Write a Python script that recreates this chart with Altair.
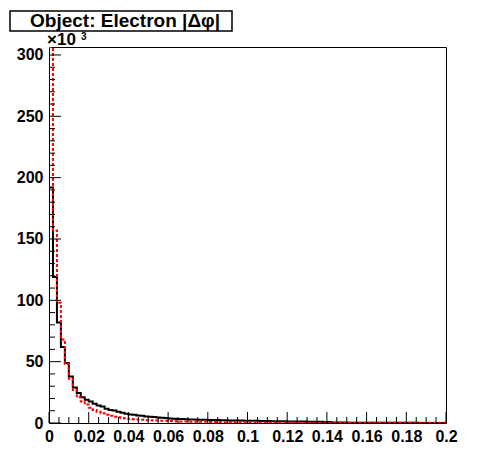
import altair as alt
import pandas as pd

# ---------------- data (counts in units of 10^3 per bin of 0.002) ----------------
bin_width = 0.002
n_bins = 100

black_counts = [
    192, 119, 82, 62, 49, 38, 29, 24.5, 21, 19,
    17.5, 15.7, 14.3, 13.5, 11.7, 10.6, 10.1, 9.2, 8.3, 7.6,
    7.0, 6.7, 6.1, 5.9, 5.3, 5.1, 4.9, 4.5, 4.3, 4.1,
    3.6, 3.4, 3.3, 3.2, 3.1, 2.8, 2.8, 2.7, 2.6, 2.6,
    2.5, 2.4, 2.4, 2.2, 2.2, 2.1, 2.1, 2.0, 2.0, 1.9,
    1.9, 1.8, 1.8, 1.7, 1.6, 1.6, 1.5, 1.5, 1.4, 1.4,
    1.3, 1.3, 1.3, 1.2, 1.2, 1.1, 1.1, 1.0, 1.0, 0.9,
    0.8, 0.5, 0.45, 0.4, 0.35, 0.3, 0.3, 0.28, 0.26, 0.25,
    0.24, 0.22, 0.2, 0.2, 0.18, 0.17, 0.16, 0.15, 0.14, 0.13,
    0.12, 0.12, 0.11, 0.1, 0.1, 0.1, 0.09, 0.09, 0.08, 0.08,
]

red_counts = [
    306.5, 157, 98, 68, 48, 36, 27, 21, 17.5, 15,
    12.5, 10.6, 9.2, 7.9, 6.7, 5.9, 5.1, 4.6, 4.1, 3.7,
    3.3, 3.1, 2.8, 2.6, 2.3, 2.2, 2.1, 2.0, 1.9, 1.8,
    1.6, 1.4, 1.3, 1.2, 1.2, 1.1, 1.1, 1.1, 1.0, 1.0,
    0.9, 0.8, 0.8, 0.7, 0.7, 0.7, 0.6, 0.6, 0.6, 0.6,
    0.5, 0.5, 0.5, 0.5, 0.5, 0.4, 0.4, 0.4, 0.4, 0.4,
    0.35, 0.35, 0.35, 0.3, 0.3, 0.3, 0.3, 0.3, 0.3, 0.25,
    0.25, 0.25, 0.25, 0.25, 0.2, 0.2, 0.2, 0.2, 0.2, 0.2,
    0.2, 0.2, 0.2, 0.2, 0.2, 0.2, 0.2, 0.2, 0.2, 0.2,
    0.2, 0.2, 0.2, 0.2, 0.2, 0.2, 0.2, 0.2, 0.2, 0.2,
]

y_major = [0, 50, 100, 150, 200, 250, 300]
y_minor = [10, 20, 30, 40, 60, 70, 80, 90, 110, 120, 130, 140, 160, 170, 180, 190,
           210, 220, 230, 240, 260, 270, 280, 290]
x_major = [0, 0.02, 0.04, 0.06, 0.08, 0.1, 0.12, 0.14, 0.16, 0.18, 0.2]
x_minor = [0.005, 0.01, 0.015, 0.025, 0.03, 0.035, 0.045, 0.05, 0.055, 0.065, 0.07,
           0.075, 0.085, 0.09, 0.095, 0.105, 0.11, 0.115, 0.125, 0.13, 0.135, 0.145,
           0.15, 0.155, 0.165, 0.17, 0.175, 0.185, 0.19, 0.195]
title_text = "Object: Electron |\u0394\u03c6|"
exp_text = "\u00d710"
exp_sup = "3"

W, H = 397, 376
FONT = "Liberation Sans"


def step_rows(counts, name):
    rows = [{"x": round(i * bin_width, 4), "y": c, "s": name} for i, c in enumerate(counts)]
    rows.append({"x": round(n_bins * bin_width, 4), "y": counts[-1], "s": name})
    return rows


black_df = pd.DataFrame(step_rows(black_counts, "black"))
red_df = pd.DataFrame(step_rows(red_counts, "red"))

xs = alt.Scale(domain=[0, 0.2], nice=False, zero=False)
ys = alt.Scale(domain=[0, 306.5], nice=False)

x_axis = alt.Axis(values=x_major, format="~g", ticks=False, domain=False, grid=False,
                  labelFont=FONT, labelFontWeight="bold", labelFontSize=16,
                  labelColor="black", labelPadding=5, labelFlush=False,
                  labelOverlap=False, title=None)
y_axis = alt.Axis(values=y_major, ticks=False, domain=False, grid=False,
                  labelFont=FONT, labelFontWeight="bold", labelFontSize=16,
                  labelColor="black", labelPadding=6, labelFlush=False,
                  labelOverlap=False, title=None)


def X(field):
    return alt.X(field, scale=xs, axis=x_axis)


def Y(field):
    return alt.Y(field, scale=ys, axis=y_axis)


black_line = alt.Chart(black_df).mark_line(
    interpolate="step-after", color="black", strokeWidth=2, clip=True
).encode(x=X("x:Q"), y=Y("y:Q"))

red_line = alt.Chart(red_df).mark_line(
    interpolate="step-after", color="#ff0000", strokeWidth=2, strokeDash=[3, 2], clip=True
).encode(x=X("x:Q"), y=Y("y:Q"))

# inward ticks (ROOT style)
ymaj = alt.Chart(pd.DataFrame({"v": y_major})).mark_rule(color="black", strokeWidth=1).encode(
    y=Y("v:Q"), x=alt.value(0), x2=alt.value(12))
ymin = alt.Chart(pd.DataFrame({"v": y_minor})).mark_rule(color="black", strokeWidth=1).encode(
    y=Y("v:Q"), x=alt.value(0), x2=alt.value(6))
xmaj = alt.Chart(pd.DataFrame({"v": x_major})).mark_rule(color="black", strokeWidth=1).encode(
    x=X("v:Q"), y=alt.value(H), y2=alt.value(H - 11))
xmin = alt.Chart(pd.DataFrame({"v": x_minor})).mark_rule(color="black", strokeWidth=1).encode(
    x=X("v:Q"), y=alt.value(H), y2=alt.value(H - 6))

# title box
title_box = alt.Chart(pd.DataFrame({"t": [title_text]})).mark_rect(
    fill="white", stroke="black", strokeWidth=1.5, clip=False
).encode(x=alt.value(-39), x2=alt.value(183), y=alt.value(-36), y2=alt.value(-16))
title_label = alt.Chart(pd.DataFrame({"t": [title_text]})).mark_text(
    font=FONT, fontWeight="bold", fontSize=19, color="black", align="center",
    baseline="middle", clip=False
).encode(text="t:N", x=alt.value(76), y=alt.value(-26.5))

exp_label = alt.Chart(pd.DataFrame({"t": [exp_text]})).mark_text(
    font=FONT, fontWeight="bold", fontSize=17, color="black", align="left",
    baseline="alphabetic", clip=False
).encode(text="t:N", x=alt.value(-2), y=alt.value(-2))
sup_label = alt.Chart(pd.DataFrame({"t": [exp_sup]})).mark_text(
    font=FONT, fontWeight="bold", fontSize=10, color="black", align="left",
    baseline="alphabetic", clip=False
).encode(text="t:N", x=alt.value(32), y=alt.value(-7))

chart = alt.layer(
    black_line, red_line, ymaj, ymin, xmaj, xmin, title_box, title_label, exp_label, sup_label
).properties(
    width=W, height=H,
    autosize=alt.AutoSizeParams(type="none"),
    padding={"left": 41, "top": 39, "right": 40, "bottom": 40},
    background="white",
).configure_view(stroke="black", strokeWidth=1)

chart.save("out.html", embed_options={"renderer": "svg", "actions": False})
